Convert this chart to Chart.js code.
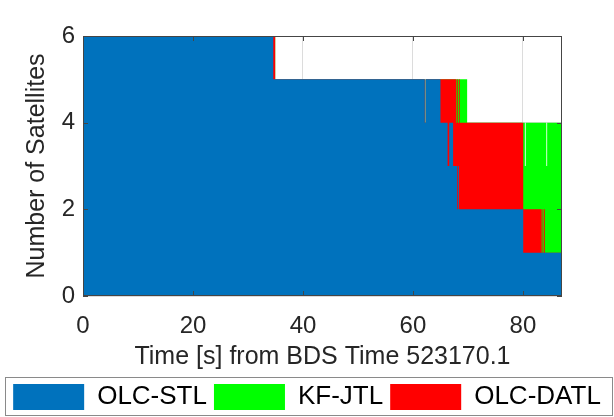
<!DOCTYPE html>
<html>
<head>
<meta charset="utf-8">
<script src="https://cdn.jsdelivr.net/npm/chart.js@4.4.1/dist/chart.umd.min.js"></script>
<style>
  html, body { margin: 0; padding: 0; background: #fff; }
</style>
</head>
<body>
<canvas id="chart" width="614" height="417"></canvas>
<script>
// time breakpoints [s] and number of satellites in each mode from that time on
var times     = [0, 34.6, 34.95, 62.15, 62.3, 65.0, 66.3, 66.6, 67.3, 67.9, 68.05, 68.2, 68.35, 68.5, 69.85, 80.05, 80.35, 80.5, 83.4, 83.55, 83.7, 83.85, 84.0, 84.25, 84.4, 87.1];
var stlCount  = [6, 5, 5, 4, 5, 4, 3, 4, 3, 3, 2, 3, 2, 2, 2, 1, 1, 1, 1, 1, 1, 1, 1, 1, 1, 1];
var datlCount = [0, 1, 0, 0, 0, 1, 2, 1, 2, 1, 3, 1, 3, 2, 2, 1, 1, 1, 0, 1, 0, 1, 0, 0, 0, 0];
var jtlCount  = [0, 0, 0, 0, 0, 0, 0, 0, 0, 1, 0, 1, 0, 1, 0, 2, 1, 2, 3, 2, 3, 2, 3, 2, 3, 3];

var xTicks = [0, 20, 40, 60, 80];
var yTicks = [0, 2, 4, 6];
var legendOrder = ['OLC-STL', 'KF-JTL', 'OLC-DATL'];

function points(counts) {
    return times.map(function (t, i) { return { x: t, y: counts[i] }; });
}

Chart.defaults.font.family = "'Liberation Sans', Arial, Helvetica, sans-serif";
Chart.defaults.color = '#262626';

// MATLAB style box, inward ticks and the legend frame
var framePlugin = {
    id: 'frame',
    afterDatasetsDraw: function (chart) {
        var a = chart.chartArea, ctx = chart.ctx;
        var xs = chart.scales.x, ys = chart.scales.y;
        ctx.save();
        ctx.strokeStyle = '#454545';
        ctx.lineWidth = 1;
        ctx.strokeRect(Math.round(a.left) + 0.5, Math.round(a.top) + 0.5,
            Math.round(a.right - a.left) - 1, Math.round(a.bottom - a.top) - 1);
        ctx.beginPath();
        xTicks.forEach(function (v) {
            var px = Math.round(xs.getPixelForValue(v)) + 0.5;
            ctx.moveTo(px, a.bottom); ctx.lineTo(px, a.bottom - 5);
            ctx.moveTo(px, a.top); ctx.lineTo(px, a.top + 5);
        });
        yTicks.forEach(function (v) {
            var py = Math.round(ys.getPixelForValue(v)) + 0.5;
            ctx.moveTo(a.left, py); ctx.lineTo(a.left + 5, py);
            ctx.moveTo(a.right, py); ctx.lineTo(a.right - 5, py);
        });
        ctx.stroke();
        ctx.restore();
    },
    afterDraw: function (chart) {
        var lg = chart.legend, ctx = chart.ctx;
        ctx.save();
        ctx.strokeStyle = '#8a8a8a';
        ctx.lineWidth = 1;
        ctx.strokeRect(5.5, Math.round(lg.top) + 0.5, 607, 38);
        ctx.restore();
    }
};

new Chart(document.getElementById('chart'), {
    type: 'line',
    data: {
        datasets: [
            { label: 'OLC-STL', data: points(stlCount), backgroundColor: '#0072BD', borderColor: '#0072BD' },
            { label: 'OLC-DATL', data: points(datlCount), backgroundColor: '#FF0000', borderColor: '#FF0000' },
            { label: 'KF-JTL', data: points(jtlCount), backgroundColor: '#00FF00', borderColor: '#00FF00' }
        ].map(function (d) {
            d.stepped = true;
            d.fill = 'origin';
            d.borderWidth = 0;
            d.pointRadius = 0;
            d.tension = 0;
            return d;
        })
    },
    options: {
        responsive: false,
        animation: false,
        devicePixelRatio: 1,
        layout: { padding: { top: 36, right: 0, bottom: -3, left: 0 } },
        plugins: {
            tooltip: { enabled: false },
            legend: {
                position: 'bottom',
                labels: {
                    boxWidth: 71,
                    boxHeight: 26,
                    padding: 7,
                    color: '#000',
                    font: { size: 26 },
                    sort: function (a, b) {
                        return legendOrder.indexOf(a.text) - legendOrder.indexOf(b.text);
                    }
                }
            }
        },
        scales: {
            x: {
                type: 'linear',
                min: 0,
                max: 87.1,
                grid: { color: '#dcdcdc', drawTicks: false },
                border: { display: false },
                ticks: { padding: 16, font: { size: 24 }, autoSkip: false, maxRotation: 0 },
                afterBuildTicks: function (s) {
                    s.ticks = xTicks.map(function (v) { return { value: v }; });
                },
                title: {
                    display: true,
                    text: 'Time [s] from BDS Time 523170.1',
                    font: { size: 25 },
                    padding: { top: 0, bottom: 5 }
                },
                afterFit: function (s) { s.height = 81; }
            },
            y: {
                stacked: true,
                min: 0,
                max: 6,
                grid: { color: '#dcdcdc', drawTicks: false },
                border: { display: false },
                ticks: { padding: 8, font: { size: 24 } },
                afterBuildTicks: function (s) {
                    s.ticks = yTicks.map(function (v) { return { value: v }; });
                },
                title: {
                    display: true,
                    text: 'Number of Satellites',
                    font: { size: 25 },
                    padding: { top: 22, bottom: 0 }
                },
                afterFit: function (s) { s.width = 83; }
            },
            yR: {
                type: 'linear',
                position: 'right',
                grid: { display: false },
                border: { display: false },
                ticks: { display: false },
                afterFit: function (s) { s.width = 52; }
            }
        }
    },
    plugins: [framePlugin]
});
</script>
</body>
</html>
